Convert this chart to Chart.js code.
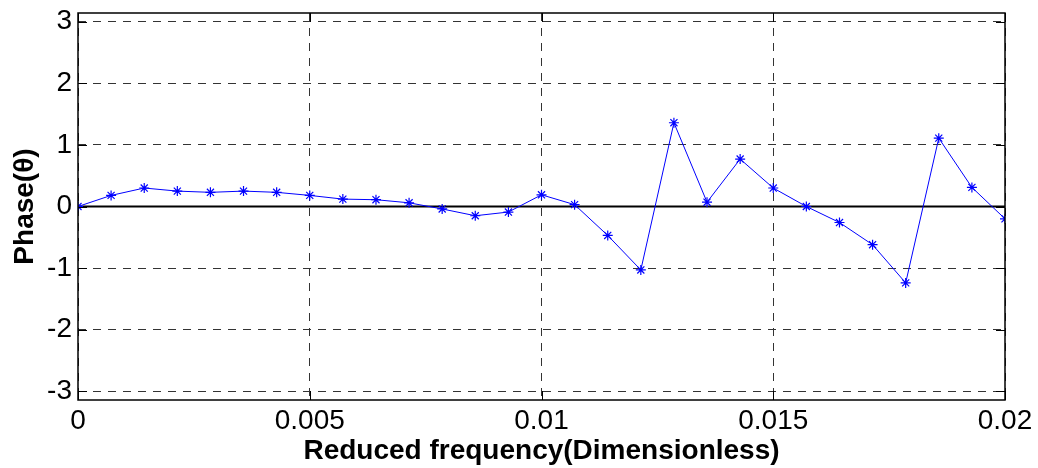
<!DOCTYPE html>
<html>
<head>
<meta charset="utf-8">
<script src="https://cdn.jsdelivr.net/npm/chart.js@4.4.1/dist/chart.umd.min.js"></script>
<style>
  html, body { margin: 0; padding: 0; background: #fff; }
  #wrap { width: 1038px; height: 468px; }
</style>
</head>
<body>
<div id="wrap"><canvas id="phaseChart" width="1038" height="468"></canvas></div>
<script>
// reduced frequency samples (x) and phase values
const freqs = [0, 0.000714, 0.001429, 0.002143, 0.002857, 0.003571, 0.004286, 0.005,
    0.005714, 0.006429, 0.007143, 0.007857, 0.008571, 0.009286, 0.01, 0.010714,
    0.011429, 0.012143, 0.012857, 0.013571, 0.014286, 0.015, 0.015714, 0.016429,
    0.017143, 0.017857, 0.018571, 0.019286, 0.02];
const phase = [0, 0.18, 0.30, 0.25, 0.23, 0.25, 0.23, 0.18,
    0.12, 0.11, 0.06, -0.04, -0.15, -0.09, 0.19, 0.03,
    -0.47, -1.03, 1.36, 0.07, 0.77, 0.30, 0.0, -0.26,
    -0.62, -1.24, 1.11, 0.31, -0.20];
// zero reference line
const zeroX = [0, 0.02];
const zeroY = [0, 0];

const xTicks = [0, 0.005, 0.01, 0.015, 0.02];
const xTickLabels = ['0', '0.005', '0.01', '0.015', '0.02'];
const yTicks = [-3, -2, -1, 0, 1, 2, 3];
const yTickLabels = ['-3', '-2', '-1', '0', '1', '2', '3'];

const FONT = "'Liberation Sans', Arial, sans-serif";

// box frame + small inward ticks like matlab
const framePlugin = {
    id: 'frame',
    afterDraw(chart) {
        const ctx = chart.ctx;
        const a = chart.chartArea;
        const xs = chart.scales.x, ys = chart.scales.y;
        ctx.save();
        ctx.strokeStyle = '#000';
        ctx.lineWidth = 1;
        ctx.beginPath();
        xTicks.forEach(v => {
            const px = Math.round(xs.getPixelForValue(v)) + 0.5;
            ctx.moveTo(px, a.bottom); ctx.lineTo(px, a.bottom - 9);
            ctx.moveTo(px, a.top); ctx.lineTo(px, a.top + 9);
        });
        yTicks.forEach(v => {
            const py = Math.round(ys.getPixelForValue(v)) + 0.5;
            ctx.moveTo(a.left, py); ctx.lineTo(a.left + 9, py);
            ctx.moveTo(a.right, py); ctx.lineTo(a.right - 9, py);
        });
        ctx.stroke();
        ctx.lineWidth = 1.5;
        ctx.strokeRect(a.left, a.top, a.right - a.left, a.bottom - a.top);
        ctx.restore();
    }
};

const ctx = document.getElementById('phaseChart').getContext('2d');
new Chart(ctx, {
    type: 'line',
    data: {
        datasets: [{
            label: 'Phase',
            data: freqs.map((f, i) => ({ x: f, y: phase[i] })),
            borderColor: '#0000ff',
            backgroundColor: '#0000ff',
            borderWidth: 1,
            pointStyle: 'star',
            pointRadius: 5,
            pointBorderColor: '#0000ff',
            pointBorderWidth: 1.2,
            tension: 0,
            order: 1
        }, {
            label: 'zero',
            data: zeroX.map((f, i) => ({ x: f, y: zeroY[i] })),
            borderColor: '#000',
            borderWidth: 2,
            pointRadius: 0,
            order: 2
        }]
    },
    options: {
        responsive: false,
        animation: false,
        events: [],
        layout: { padding: { top: 13, right: 33, left: 0, bottom: 0 } },
        plugins: {
            legend: { display: false },
            tooltip: { enabled: false }
        },
        scales: {
            x: {
                type: 'linear',
                min: 0,
                max: 0.02,
                afterBuildTicks: s => { s.ticks = xTicks.map(v => ({ value: v })); },
                afterFit: s => { s.height = 68; s.paddingLeft = 0; s.paddingRight = 0; },
                grid: { color: '#333', lineWidth: 1, drawTicks: false },
                border: { display: false, dash: [8, 7] },
                ticks: {
                    padding: 4,
                    color: '#000',
                    font: { family: FONT, size: 28 },
                    maxRotation: 0,
                    callback: (v) => xTickLabels[xTicks.indexOf(v)]
                },
                title: {
                    display: true,
                    text: 'Reduced frequency(Dimensionless)',
                    color: '#000',
                    font: { family: FONT, size: 28, weight: 'bold' },
                    padding: { top: 0, bottom: 0 }
                }
            },
            y: {
                type: 'linear',
                min: -Math.PI,
                max: Math.PI,
                afterBuildTicks: s => { s.ticks = yTicks.map(v => ({ value: v })); },
                afterFit: s => { s.width = 78; s.paddingTop = 0; s.paddingBottom = 0; },
                grid: { color: '#333', lineWidth: 1, drawTicks: false },
                border: { display: false, dash: [8, 7] },
                ticks: {
                    padding: 6,
                    color: '#000',
                    font: { family: FONT, size: 28 },
                    callback: (v) => yTickLabels[yTicks.indexOf(v)]
                },
                title: {
                    display: true,
                    text: 'Phase(θ)',
                    color: '#000',
                    font: { family: FONT, size: 28, weight: 'bold' },
                    padding: { top: 8, bottom: 0 }
                }
            }
        }
    },
    plugins: [framePlugin]
});
</script>
</body>
</html>
